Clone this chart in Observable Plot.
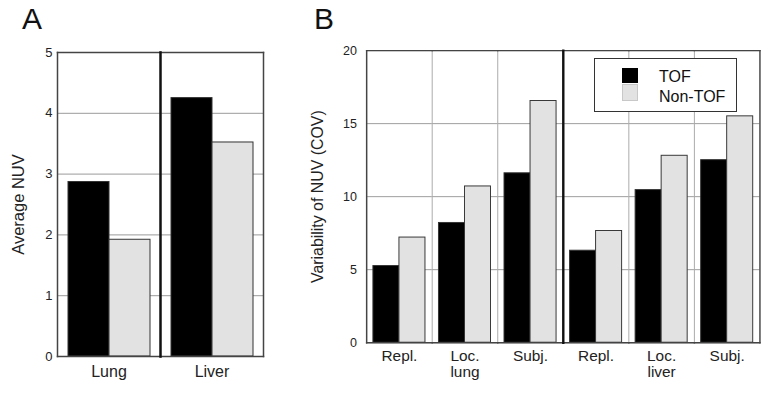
<!DOCTYPE html>
<html><head><meta charset="utf-8">
<script src="https://cdn.jsdelivr.net/npm/d3@7"></script>
<script src="https://cdn.jsdelivr.net/npm/@observablehq/plot@0.6"></script>
<style>
body{margin:0;background:#fff;}
#wrap{position:relative;width:772px;height:402px;overflow:hidden;background:#fff;font-family:"Liberation Sans",Arial,sans-serif;color:#222;}
.abs{position:absolute;}
#panelA{left:0;top:0;}
#panelB{left:290px;top:0;}
.plabel{font-size:30px;line-height:30px;color:#111;}
#legend{left:594px;top:58px;width:141px;height:52px;border:1.5px solid #333;background:#fff;}
.sw{position:absolute;width:16px;}
.lt{position:absolute;font-size:16px;line-height:16px;white-space:nowrap;color:#111;}
</style></head>
<body>
<div id="wrap">
  <div id="panelA" class="abs"></div>
  <div id="panelB" class="abs"></div>
  <div class="abs plabel" style="left:22px;top:4px;">A</div>
  <div class="abs plabel" style="left:314px;top:4px;">B</div>
  <div id="legend" class="abs">
    <div class="sw" style="left:27px;top:9px;height:15px;background:#000;"></div>
    <div class="sw" style="left:27px;top:25px;height:17px;background:#e2e2e2;box-sizing:border-box;border:1px solid #c8c8c8;"></div>
    <div class="lt" style="left:64px;top:10px;">TOF</div>
    <div class="lt" style="left:64px;top:30px;">Non-TOF</div>
  </div>
</div>
<script>
// ---- Data ----
const seriesNames = ["TOF", "Non-TOF"];

const organsA = ["Lung", "Liver"];
const labelsA = ["Lung", "Liver"];
const tofA = [2.87, 4.25];
const nonTofA = [1.92, 3.52];
const ticksA = [0, 1, 2, 3, 4, 5];

const groupsB = ["Repl. lung", "Loc. lung", "Subj. lung", "Repl. liver", "Loc. liver", "Subj. liver"];
const labelsB = ["Repl.", "Loc.\nlung", "Subj.", "Repl.", "Loc.\nliver", "Subj."];
const tofB = [5.25, 8.2, 11.6, 6.3, 10.45, 12.5];
const nonTofB = [7.2, 10.7, 16.55, 7.65, 12.8, 15.5];
const ticksB = [0, 5, 10, 15, 20];

function rows(groups, tof, non) {
  return groups.flatMap((g, i) => [
    {group: g, mode: "TOF", value: tof[i]},
    {group: g, mode: "Non-TOF", value: non[i]}
  ]);
}

function panel(o) {
  const groups = o.groups;
  const first = groups[0], last = groups[groups.length - 1], mid = groups[groups.length / 2];
  return Plot.plot({
    width: o.width, height: 402,
    marginTop: 52, marginBottom: o.marginBottom, marginLeft: o.marginLeft, marginRight: o.marginRight,
    style: {fontFamily: '"Liberation Sans", Arial, sans-serif', fontSize: "13px", color: "#222", background: "transparent"},
    facet: {marginTop: 0, marginRight: 0, marginBottom: 0, marginLeft: 0},
    fx: {domain: groups, padding: 0},
    x: {domain: seriesNames, paddingInner: 0, paddingOuter: 0.24, axis: null},
    y: {domain: [0, o.yMax]},
    color: {domain: seriesNames, range: ["#000000", "#e2e2e2"]},
    marks: [
      Plot.gridY(o.ticks, {stroke: "#9a9a9a", strokeOpacity: 1, strokeWidth: 1}),
      Plot.frame({anchor: "left", stroke: "#a8a8a8", strokeWidth: 1}),
      Plot.barY(o.data, {fx: "group", x: "mode", y: "value", fill: "mode", stroke: "#333", strokeWidth: 1}),
      Plot.frame({anchor: "top", stroke: "#444", strokeWidth: 1.5}),
      Plot.frame({anchor: "bottom", stroke: "#444", strokeWidth: 1.5}),
      Plot.frame({anchor: "left", stroke: "#444", strokeWidth: 1.5, fx: first}),
      Plot.frame({anchor: "right", stroke: "#444", strokeWidth: 1.5, fx: last}),
      Plot.frame({anchor: "left", stroke: "#111", strokeWidth: 2.5, fx: mid}),
      Plot.axisY(o.ticks, {tickSize: 0, tickPadding: o.tickPadding, fontSize: 13, label: null, tickFormat: d => String(d)}),
      Plot.axisY([], {tickSize: 0, label: o.title, labelArrow: false, labelAnchor: "center", labelOffset: o.labelOffset, fontSize: 16.5}),
      Plot.axisFx({anchor: "bottom", tickSize: 0, tickPadding: o.fxPadding, fontSize: 16, lineHeight: 1.05, label: null,
        tickFormat: d => o.labels[groups.indexOf(d)]})
    ]
  });
}

document.getElementById("panelA").append(panel({
  groups: organsA, labels: labelsA, data: rows(organsA, tofA, nonTofA), ticks: ticksA, yMax: 5,
  title: "Average NUV", width: 270, marginLeft: 57, marginRight: 7, marginBottom: 46,
  tickPadding: 5, labelOffset: 45, fxPadding: 9
}));

document.getElementById("panelB").append(panel({
  groups: groupsB, labels: labelsB, data: rows(groupsB, tofB, nonTofB), ticks: ticksB, yMax: 20,
  title: "Variability of NUV (COV)", width: 500, marginLeft: 78, marginRight: 12, marginBottom: 47,
  tickPadding: 10, labelOffset: 57, fxPadding: 7
}));
</script>
</body></html>
